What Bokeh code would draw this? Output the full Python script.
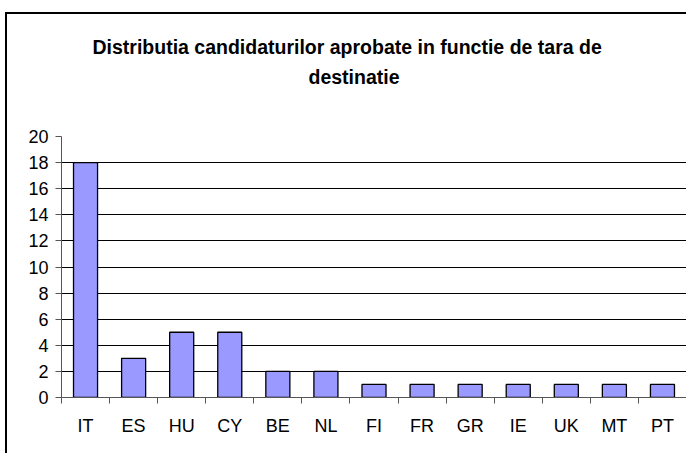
import numpy as np
from bokeh.plotting import figure
from bokeh.models import Range1d, LinearAxis, FixedTicker, Title
from bokeh.embed import file_html
from bokeh.resources import INLINE

countries = ["IT", "ES", "HU", "CY", "BE", "NL", "FI", "FR", "GR", "IE", "UK", "MT", "PT"]
counts = [18, 3, 5, 5, 2, 2, 1, 1, 1, 1, 1, 1, 1]
y_ticks = list(range(0, 21, 2))
title_line1 = "Distributia candidaturilor aprobate in functie de tara de"
title_line2 = "destinatie"

FONT = "Liberation Sans"
AXIS_COLOR = "#555555"

n = len(countries)
centers = (np.arange(n) + 0.5).tolist()
bounds = list(range(n + 1))

p = figure(width=681, height=441,
           x_range=Range1d(0, n), y_range=Range1d(0, 20),
           output_backend="svg", toolbar_location=None,
           x_axis_location=None, y_axis_location="left", title=None,
           min_border_left=54, min_border_right=2,
           min_border_top=122, min_border_bottom=58,
           background_fill_color="white", border_fill_color="white",
           outline_line_color=None)
p.styles = {"margin-top": "12px", "margin-left": "5px",
            "border-left": "2px solid black", "border-top": "2px solid black"}

p.vbar(x=centers, top=counts, width=0.5, bottom=0,
       fill_color="#9999FF", line_color="black", line_width=1.3)

# y axis
p.yaxis.ticker = FixedTicker(ticks=y_ticks)
p.yaxis.major_tick_out = 6
p.yaxis.major_tick_in = 0
p.yaxis.minor_tick_out = 0
p.yaxis.minor_tick_in = 0
p.yaxis.axis_line_color = AXIS_COLOR
p.yaxis.major_tick_line_color = AXIS_COLOR
p.yaxis.major_label_standoff = 7
p.yaxis.major_label_text_font = FONT
p.yaxis.major_label_text_font_size = "18px"
p.yaxis.major_label_text_color = "black"

p.ygrid.grid_line_color = "black"
p.ygrid.grid_line_width = 1
p.xgrid.visible = False

# x axis: labels at category centers, tick marks (minor) at category boundaries
x_axis = LinearAxis(ticker=FixedTicker(ticks=centers, minor_ticks=bounds),
                    major_label_overrides={c: name for c, name in zip(centers, countries)},
                    major_tick_out=0, major_tick_in=0,
                    minor_tick_out=6, minor_tick_in=0,
                    axis_line_color=AXIS_COLOR, minor_tick_line_color=AXIS_COLOR,
                    major_tick_line_color=None,
                    major_label_standoff=12,
                    major_label_text_font=FONT,
                    major_label_text_font_size="18px",
                    major_label_text_color="black")
p.add_layout(x_axis, "below")

# two-line bold title (line 2 added first: closest to the plot)
p.add_layout(Title(text=title_line2, align="left", offset=247, standoff=98,
                   text_font=FONT, text_font_style="bold",
                   text_font_size="19.5px", text_color="black"), "above")
p.add_layout(Title(text=title_line1, align="left", offset=31, standoff=-86,
                   text_font=FONT, text_font_style="bold",
                   text_font_size="19.5px", text_color="black"), "above")

open("out.html", "w").write(file_html(p, INLINE))
